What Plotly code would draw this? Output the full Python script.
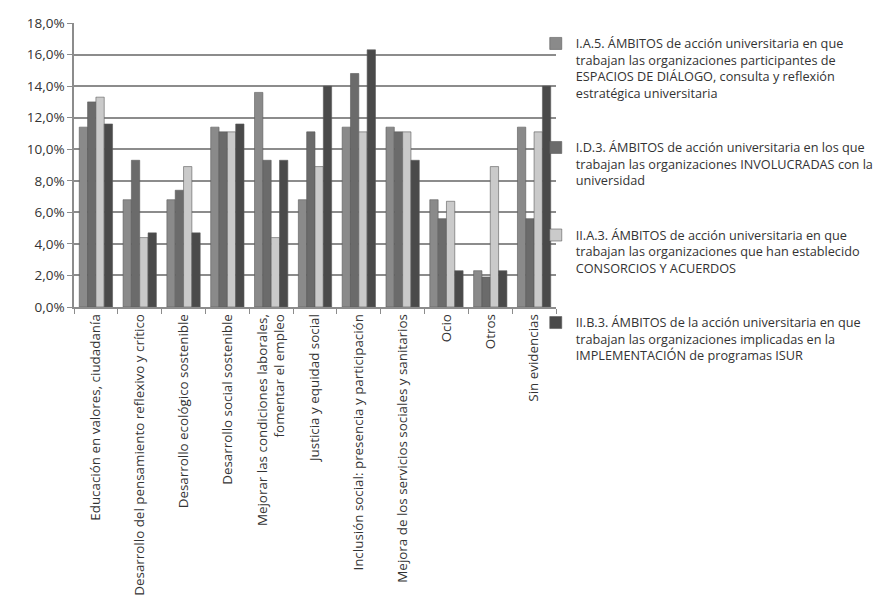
import plotly.graph_objects as go

categories = [
    "Educación en valores, ciudadanía",
    "Desarrollo del pensamiento reflexivo y crítico",
    "Desarrollo ecológico sostenible",
    "Desarrollo social sostenible",
    "Mejorar las condiciones laborales,<br>fomentar el empleo",
    "Justicia y equidad social",
    "Inclusión social: presencia y participación",
    "Mejora de los servicios sociales y sanitarios",
    "Ocio",
    "Otros",
    "Sin evidencias",
]

series_names = [
    "I.A.5. ÁMBITOS de acción universitaria en que<br>trabajan las organizaciones participantes de<br>ESPACIOS DE DIÁLOGO, consulta y reflexión<br>estratégica universitaria",
    "I.D.3. ÁMBITOS de acción universitaria en los que<br>trabajan las organizaciones INVOLUCRADAS con la<br>universidad",
    "II.A.3. ÁMBITOS de acción universitaria en que<br>trabajan las organizaciones que han establecido<br>CONSORCIOS Y ACUERDOS",
    "II.B.3. ÁMBITOS de la acción universitaria en que<br>trabajan las organizaciones implicadas en la<br>IMPLEMENTACIÓN de programas ISUR",
]

s1 = [0.114, 0.068, 0.068, 0.114, 0.136, 0.068, 0.114, 0.114, 0.068, 0.023, 0.114]
s2 = [0.130, 0.093, 0.074, 0.111, 0.093, 0.111, 0.148, 0.111, 0.056, 0.019, 0.056]
s3 = [0.133, 0.044, 0.089, 0.111, 0.044, 0.089, 0.111, 0.111, 0.067, 0.089, 0.111]
s4 = [0.116, 0.047, 0.047, 0.116, 0.093, 0.140, 0.163, 0.093, 0.023, 0.023, 0.140]

series_values = [s1, s2, s3, s4]
colors = ["#8a8a8a", "#6b6b6b", "#cacaca", "#4a4a4a"]

fig = go.Figure()
for i, (name, vals, col) in enumerate(zip(series_names, series_values, colors)):
    fig.add_trace(go.Bar(
        x=categories, y=vals, name=name,
        marker=dict(color=col, line=dict(color="#5a5a5a", width=0.6)),
        legendgroup=f"g{i}",
    ))

font_family = "Open Sans, Lato, DejaVu Sans, sans-serif"

fig.update_layout(
    width=890, height=603,
    barmode="group", bargap=0.24, bargroupgap=0,
    plot_bgcolor="white", paper_bgcolor="white",
    margin=dict(l=66, r=342, t=15, b=304, autoexpand=False),
    separators=", ",
    font=dict(family=font_family, size=13, color="#333333"),
    legend=dict(
        x=0.958, y=0.98, xanchor="left", yanchor="top",
        font=dict(size=12.7, color="#333333"),
        tracegroupgap=35, itemwidth=30, valign="top",
        bgcolor="rgba(0,0,0,0)", maxheight=600,
    ),
    yaxis=dict(
        range=[0, 0.18], dtick=0.02, tickformat=".1%",
        showgrid=True, gridcolor="#8c8c8c", gridwidth=1.5,
        showline=True, linecolor="#8c8c8c", linewidth=1.5,
        ticks="outside", ticklen=5, tickcolor="#8c8c8c",
        zeroline=False,
        tickfont=dict(size=13.5, color="#333333"),
    ),
    xaxis=dict(
        tickangle=-90,
        showline=True, linecolor="#8c8c8c", linewidth=1.5,
        ticks="outside", ticklen=5, tickcolor="#8c8c8c",
        tickson="boundaries",
        tickfont=dict(size=13.4, color="#333333"),
    ),
)

fig.write_html("out.html")
